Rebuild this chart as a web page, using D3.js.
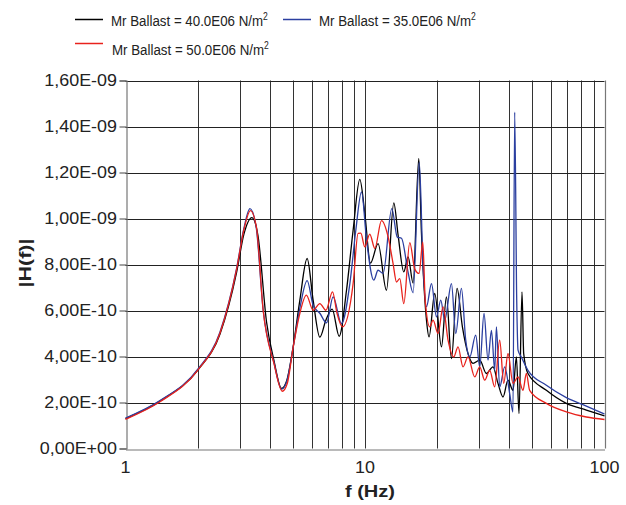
<!DOCTYPE html>
<html>
<head>
<meta charset="utf-8">
<script src="https://cdn.jsdelivr.net/npm/d3@7"></script>
<style>
  html, body { margin: 0; padding: 0; background: #fff; }
  svg { display: block; font-family: "Liberation Sans", Arial, sans-serif; }
</style>
</head>
<body>
<svg id="chart" width="626" height="505"></svg>
<script>
// ---------- data (values in units of 1e-10) ----------
const UNIT = 1e-10;
const seriesNames = ["Mr Ballast = 40.0E06 N/m", "Mr Ballast = 35.0E06 N/m", "Mr Ballast = 50.0E06 N/m"];
const seriesColors = ["#000000", "#2b3fa0", "#e8221c"];

const freqBlack = [1.00,1.393,2.012,2.479,2.911,3.122,3.372,3.572,3.882,4.164,4.485,4.718,5.012,5.346,5.734,6.073,6.478,6.864,7.293,7.799,8.372,8.921,9.513,9.98,10.54,11.34,12.29,13.19,13.75,14.52,15.13,15.88,16.77,17.21,18.06,18.51,19.55,20.86,21.88,22.96,24.23,25.51,26.92,28.25,30.13,32.14,34.22,35.92,37.69,39.54,41.49,42.87,43.96,45.24,45.98,47.91,57.18,69.28,83.97,100];
const valBlack  = [1.30,2.06,3.43,4.97,7.67,9.32,10.04,9.27,5.49,3.84,2.61,2.97,4.42,6.45,8.26,6.45,4.84,5.58,6.06,4.88,6.88,9.49,11.70,10.23,8.06,8.91,6.88,10.68,9.27,7.68,8.33,7.19,12.61,9.35,5.58,4.85,6.74,4.42,6.59,3.91,6.96,5.29,4.13,3.70,3.84,3.26,3.55,2.83,2.24,2.97,2.53,3.98,1.52,6.81,4.13,3.26,2.53,1.96,1.67,1.42];

const freqBlue = [1.00,1.393,2.012,2.479,2.911,3.122,3.307,3.503,3.757,4.164,4.485,4.718,5.012,5.346,5.734,6.073,6.478,6.910,7.360,7.980,8.645,9.155,9.670,10.15,10.88,11.34,11.90,12.94,13.64,14.20,15.13,15.88,16.85,17.48,18.06,18.95,19.88,20.72,21.52,22.96,23.93,25.27,26.34,27.37,28.99,30.13,31.40,32.63,33.72,34.80,35.37,36.51,38.31,40.19,41.49,42.17,43.00,43.55,44.98,47.91,57.18,69.28,83.97,100];
const valBlue  = [1.32,2.08,3.47,5.06,7.84,9.58,10.43,9.71,6.01,3.75,2.58,2.93,4.40,6.10,7.30,6.23,5.88,5.46,6.59,5.43,7.17,9.49,11.16,9.06,7.32,7.75,7.61,10.43,9.19,9.14,7.67,6.77,12.45,7.90,6.16,7.17,5.72,6.45,5.58,7.17,5.00,6.96,4.71,3.98,4.93,3.55,5.87,3.84,5.14,3.40,5.29,2.68,3.55,2.39,1.58,14.62,6.45,4.28,3.97,3.40,2.75,2.21,1.84,1.50];

const freqRed = [1.00,1.393,2.012,2.479,2.911,3.122,3.323,3.520,3.757,4.164,4.511,4.740,5.012,5.346,5.690,6.073,6.478,6.864,7.318,7.645,8.055,8.921,9.359,9.605,9.98,10.47,10.99,11.72,12.49,13.10,13.54,13.97,14.52,15.38,16.14,16.82,17.43,17.84,18.63,19.24,20.18,21.18,22.22,23.47,24.46,25.66,26.92,28.72,30.13,31.61,33.17,34.80,36.51,37.95,39.54,41.49,43.55,45.66,47.18,48.69,57.18,69.28,83.97,100];
const valRed  = [1.27,2.03,3.43,5.01,7.80,9.51,10.34,9.62,6.01,3.71,2.49,2.84,4.40,5.88,6.67,6.01,6.30,6.01,6.81,5.87,5.29,7.17,9.35,9.36,8.77,9.32,8.70,9.91,9.20,8.04,7.24,7.39,6.30,8.95,7.80,7.61,8.98,6.45,5.29,5.58,5.00,6.16,4.71,3.98,4.42,3.55,3.98,3.11,3.55,2.97,3.40,2.68,4.71,2.83,4.13,2.83,3.11,2.53,3.26,2.53,1.96,1.59,1.37,1.26];

const xTickValues = [1, 10, 100];
const xTickLabels = ["1", "10", "100"];
const xGridValues = [2,3,4,5,6,7,8,9,10,20,30,40,50,60,70,80,90];
const yTickValues = [0, 2e-10, 4e-10, 6e-10, 8e-10, 1e-9, 1.2e-9, 1.4e-9, 1.6e-9];
const yTickLabels = ["0,00E+00","2,00E-10","4,00E-10","6,00E-10","8,00E-10","1,00E-09","1,20E-09","1,40E-09","1,60E-09"];

// ---------- layout ----------
const svg = d3.select("#chart");
const x = d3.scaleLog().domain([1, 100]).range([125.5, 604.5]);
const y = d3.scaleLinear().domain([0, 1.6e-9]).range([448.5, 80.5]);

const series = [
  {f: freqBlack, v: valBlack},
  {f: freqBlue,  v: valBlue},
  {f: freqRed,   v: valRed}
].map((s, i) => ({
  name: seriesNames[i], color: seriesColors[i],
  points: s.f.map((f, k) => ({f, v: s.v[k] * UNIT}))
}));

// grid
const grid = svg.append("g");
grid.selectAll("line.v").data(xGridValues).join("line")
  .attr("x1", d => Math.round(x(d)) + 0.5).attr("x2", d => Math.round(x(d)) + 0.5)
  .attr("y1", y(1.6e-9)).attr("y2", y(0))
  .attr("stroke", "#333").attr("stroke-width", 1);
grid.selectAll("line.h").data(yTickValues.slice(1)).join("line")
  .attr("x1", x(1)).attr("x2", x(100))
  .attr("y1", d => Math.round(y(d)) + 0.5).attr("y2", d => Math.round(y(d)) + 0.5)
  .attr("stroke", "#222").attr("stroke-width", 1);
// right border
grid.append("line")
  .attr("x1", Math.round(x(100)) + 0.5).attr("x2", Math.round(x(100)) + 0.5)
  .attr("y1", y(1.6e-9)).attr("y2", y(0))
  .attr("stroke", "#777").attr("stroke-width", 1.2);

// axes
const yAxis = d3.axisLeft(y).tickValues(yTickValues).tickSize(7).tickFormat("");
const gy = svg.append("g").attr("transform", `translate(${Math.round(x(1)) + 0.5},0)`).call(yAxis);
gy.select(".domain").attr("stroke", "#777").attr("stroke-width", 1.2);
gy.selectAll(".tick line").attr("stroke", "#444");

const xAxis = d3.axisBottom(x).tickValues(xTickValues).tickSize(0).tickFormat("");
const gx = svg.append("g").attr("transform", `translate(0,${Math.round(y(0)) + 0.5})`).call(xAxis);
gx.select(".domain").attr("stroke", "#777").attr("stroke-width", 1.2);

// tick labels (stretched horizontally to match reference metrics)
svg.append("g").selectAll("text").data(yTickValues).join("text")
  .attr("transform", d => `translate(117,${y(d) + 5.8}) scale(1.12,1)`)
  .attr("text-anchor", "end").attr("font-size", 16).attr("fill", "#222")
  .text((d, i) => yTickLabels[i]);
svg.append("g").selectAll("text").data(xTickValues).join("text")
  .attr("transform", d => `translate(${x(d)},473) scale(1.12,1)`)
  .attr("text-anchor", "middle").attr("font-size", 16).attr("fill", "#222")
  .text((d, i) => xTickLabels[i]);

// axis titles
svg.append("text").attr("transform", "translate(370,497) scale(1.18,1)")
  .attr("text-anchor", "middle").attr("font-size", 17).attr("font-weight", "bold").attr("fill", "#222")
  .text("f (Hz)");
svg.append("text").attr("transform", "translate(31,263) rotate(-90) scale(1.26,1)")
  .attr("text-anchor", "middle").attr("font-size", 17).attr("font-weight", "bold").attr("fill", "#222")
  .text("|H(f)|");

// lines
const line = d3.line().x(d => x(d.f)).y(d => y(d.v)).curve(d3.curveMonotoneX);
svg.append("g").selectAll("path").data(series).join("path")
  .attr("d", d => line(d.points))
  .attr("fill", "none").attr("stroke", d => d.color).attr("stroke-width", 1.3)
  .attr("stroke-linejoin", "round");

// legend
const legendPos = [{lx: 75, ly: 19.5, tx: 111, ty: 25.5}, {lx: 283, ly: 19.5, tx: 319, ty: 25.5}, {lx: 75, ly: 43.5, tx: 112, ty: 54.5}];
const lg = svg.append("g");
series.forEach((s, i) => {
  const p = legendPos[i];
  lg.append("line").attr("x1", p.lx).attr("x2", p.lx + 28).attr("y1", p.ly).attr("y2", p.ly)
    .attr("stroke", s.color).attr("stroke-width", 1.5);
  const t = lg.append("text").attr("transform", `translate(${p.tx},${p.ty}) scale(0.86,1)`)
    .attr("font-size", 15.5).attr("fill", "#222");
  t.append("tspan").text(s.name);
  t.append("tspan").attr("dy", -6).attr("font-size", 10).text("2");
});
</script>
</body>
</html>
